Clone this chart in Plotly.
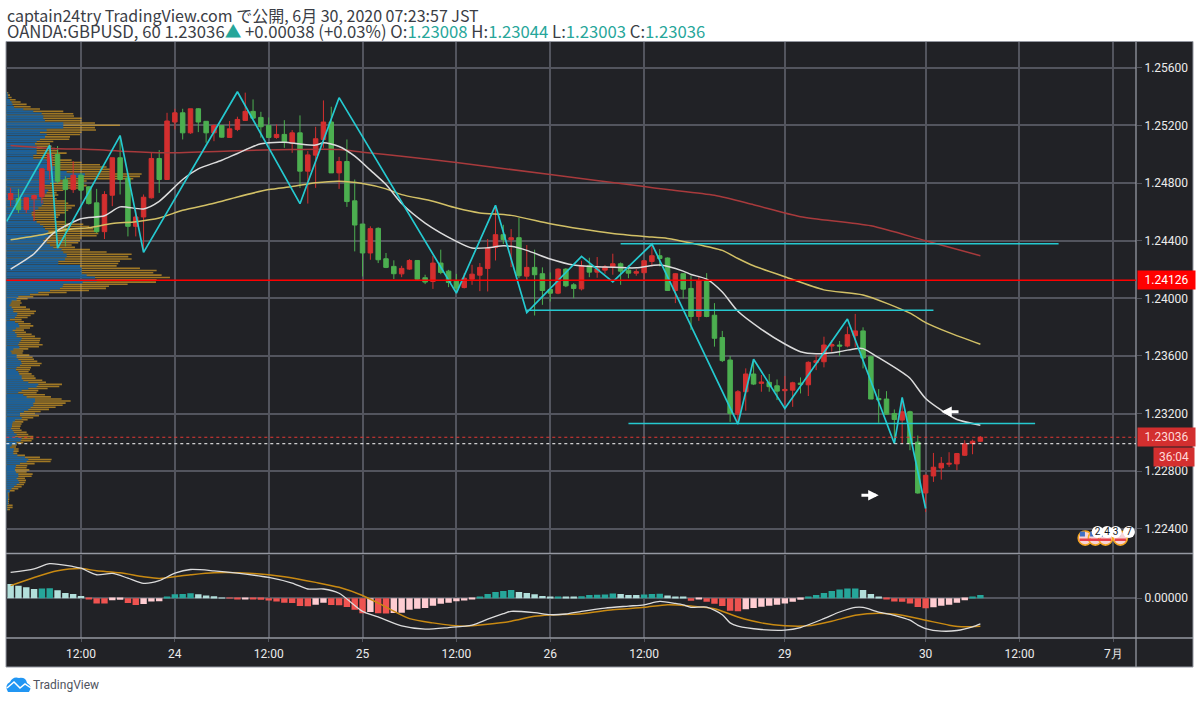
import plotly.graph_objects as go
import numpy as np

# hourly bar index: 0 = 12:00 on the 23rd, weekend gap removed
bar_index = list(range(-9, 116))

opens = [
    1.24686, 1.24693, 1.24616, 1.24691, 1.24705, 1.24890, 1.24999, 1.24823, 1.24755, 1.24855,
    1.24774, 1.24663, 1.24463, 1.24716, 1.24976, 1.24836, 1.24500, 1.24565, 1.24698, 1.24971,
    1.24825, 1.25224, 1.25288, 1.25149, 1.25316, 1.25229, 1.25149, 1.25200, 1.25117, 1.25173,
    1.25235, 1.25298, 1.25256, 1.25200, 1.25117, 1.25138, 1.25080, 1.25149, 1.24883, 1.24994,
    1.25103, 1.25224, 1.24871, 1.24950, 1.24677, 1.24516, 1.24315, 1.24486, 1.24275, 1.24222,
    1.24170, 1.24203, 1.24263, 1.24143, 1.24117, 1.24245, 1.24189, 1.24119, 1.24075, 1.24133,
    1.24161, 1.24208, 1.24354, 1.24442, 1.24407, 1.24421, 1.24154, 1.24215, 1.24171, 1.24062,
    1.24036, 1.24203, 1.24094, 1.24066, 1.24226, 1.24182, 1.24196, 1.24219, 1.24240, 1.24196,
    1.24175, 1.24178, 1.24256, 1.24296, 1.24280, 1.24055, 1.24171, 1.24069, 1.23874, 1.24124,
    1.23883, 1.23728, 1.23572, 1.23196, 1.23352, 1.23475, 1.23410, 1.23417, 1.23393, 1.23359,
    1.23363, 1.23412, 1.23400, 1.23554, 1.23560, 1.23669, 1.23676, 1.23669, 1.23741, 1.23774,
    1.23595, 1.23305, 1.23301, 1.23201, 1.23155, 1.23213, 1.23002, 1.22649, 1.22767, 1.22823,
    1.22849, 1.22851, 1.22911, 1.22992, 1.23008,
]
highs = [
    1.24767, 1.24760, 1.24698, 1.24721, 1.24906, 1.25064, 1.25057, 1.24848, 1.24952, 1.24871,
    1.24778, 1.24760, 1.24744, 1.24976, 1.25131, 1.24848, 1.24616, 1.24721, 1.25015, 1.25029,
    1.25288, 1.25316, 1.25316, 1.25316, 1.25321, 1.25231, 1.25207, 1.25200, 1.25231, 1.25261,
    1.25428, 1.25381, 1.25295, 1.25256, 1.25207, 1.25237, 1.25168, 1.25270, 1.25022, 1.25191,
    1.25374, 1.25330, 1.24982, 1.25103, 1.24825, 1.24516, 1.24500, 1.24493, 1.24315, 1.24264,
    1.24226, 1.24272, 1.24263, 1.24164, 1.24296, 1.24338, 1.24198, 1.24170, 1.24175, 1.24233,
    1.24245, 1.24412, 1.24639, 1.24511, 1.24481, 1.24558, 1.24370, 1.24338, 1.24215, 1.24180,
    1.24208, 1.24210, 1.24106, 1.24261, 1.24282, 1.24287, 1.24231, 1.24310, 1.24249, 1.24231,
    1.24203, 1.24263, 1.24372, 1.24342, 1.24284, 1.24175, 1.24175, 1.24157, 1.24147, 1.24175,
    1.23967, 1.23774, 1.23600, 1.23363, 1.23514, 1.23577, 1.23468, 1.23475, 1.23437, 1.23461,
    1.23421, 1.23451, 1.23563, 1.23607, 1.23734, 1.23711, 1.23704, 1.23804, 1.23892, 1.23799,
    1.23602, 1.23370, 1.23356, 1.23229, 1.23289, 1.23220, 1.23048, 1.22777, 1.22927, 1.22899,
    1.22932, 1.22927, 1.23015, 1.23020, 1.23044,
]
lows = [
    1.24640, 1.24593, 1.24593, 1.24535, 1.24658, 1.24825, 1.24797, 1.24361, 1.24732, 1.24686,
    1.24651, 1.24454, 1.24412, 1.24640, 1.24721, 1.24430, 1.24430, 1.24326, 1.24693, 1.24732,
    1.24825, 1.25173, 1.25103, 1.25142, 1.25154, 1.25080, 1.25091, 1.25115, 1.25117, 1.25161,
    1.25231, 1.25247, 1.25115, 1.25115, 1.25108, 1.25045, 1.25010, 1.24767, 1.24658, 1.24767,
    1.25045, 1.24871, 1.24760, 1.24635, 1.24326, 1.24152, 1.24268, 1.24245, 1.24210, 1.24134,
    1.24147, 1.24198, 1.24129, 1.24099, 1.24066, 1.24168, 1.24078, 1.24036, 1.24069, 1.24094,
    1.24050, 1.24048, 1.24263, 1.24377, 1.24217, 1.24140, 1.24129, 1.23881, 1.23955, 1.23978,
    1.24029, 1.24078, 1.24001, 1.24055, 1.24147, 1.24143, 1.24171, 1.24164, 1.24094, 1.24140,
    1.24157, 1.24133, 1.24222, 1.24222, 1.24052, 1.23967, 1.23999, 1.23781, 1.23844, 1.23869,
    1.23665, 1.23558, 1.23143, 1.23131, 1.23220, 1.23398, 1.23352, 1.23352, 1.23294, 1.23259,
    1.23247, 1.23340, 1.23322, 1.23502, 1.23521, 1.23630, 1.23600, 1.23660, 1.23660, 1.23514,
    1.23301, 1.23136, 1.23192, 1.22992, 1.22992, 1.22946, 1.22644, 1.22517, 1.22726, 1.22742,
    1.22830, 1.22807, 1.22906, 1.22918, 1.23003,
]
closes = [
    1.24728, 1.24616, 1.24698, 1.24714, 1.24899, 1.24999, 1.24813, 1.24755, 1.24855, 1.24751,
    1.24658, 1.24463, 1.24721, 1.24976, 1.24825, 1.24500, 1.24565, 1.24702, 1.24971, 1.24825,
    1.25231, 1.25288, 1.25149, 1.25316, 1.25224, 1.25149, 1.25200, 1.25119, 1.25177, 1.25242,
    1.25298, 1.25251, 1.25191, 1.25117, 1.25138, 1.25084, 1.25149, 1.24883, 1.24996, 1.25108,
    1.25224, 1.24871, 1.24950, 1.24672, 1.24509, 1.24315, 1.24484, 1.24268, 1.24215, 1.24171,
    1.24208, 1.24263, 1.24133, 1.24113, 1.24245, 1.24180, 1.24110, 1.24071, 1.24140, 1.24168,
    1.24215, 1.24349, 1.24442, 1.24407, 1.24421, 1.24157, 1.24215, 1.24164, 1.24055, 1.24036,
    1.24203, 1.24087, 1.24069, 1.24226, 1.24182, 1.24205, 1.24219, 1.24240, 1.24189, 1.24175,
    1.24185, 1.24261, 1.24296, 1.24277, 1.24055, 1.24171, 1.24064, 1.23874, 1.24124, 1.23874,
    1.23723, 1.23568, 1.23201, 1.23352, 1.23475, 1.23405, 1.23419, 1.23387, 1.23356, 1.23368,
    1.23414, 1.23403, 1.23556, 1.23567, 1.23676, 1.23679, 1.23669, 1.23748, 1.23774, 1.23586,
    1.23301, 1.23296, 1.23196, 1.23159, 1.23213, 1.22992, 1.22649, 1.22772, 1.22828, 1.22855,
    1.22855, 1.22923, 1.22990, 1.23008, 1.23036,
]

ma_white_x = [-9, -6, -4, -3, 0, 3, 5, 8, 10, 13, 15, 18, 20, 23, 26, 28, 30, 31, 33, 35, 37, 39, 41, 44, 48, 50, 52,
              54, 55, 57, 60, 63, 67, 71, 74, 77, 78, 80, 82, 84, 87, 90, 92, 94, 97, 99, 100, 102, 105, 106, 108,
              110, 112, 115]
ma_white = [1.24203, 1.24310, 1.24430, 1.24472, 1.24553, 1.24574, 1.24635, 1.24621, 1.24674, 1.24825, 1.24899,
            1.24959, 1.25006, 1.25073, 1.25084, 1.25071, 1.25064, 1.25080, 1.25054, 1.24987, 1.24890, 1.24790,
            1.24658, 1.24523, 1.24396, 1.24349, 1.24351, 1.24365, 1.24361, 1.24333, 1.24273, 1.24231, 1.24217,
            1.24212, 1.24231, 1.24189, 1.24166, 1.24133, 1.24044, 1.23910, 1.23785, 1.23683, 1.23630, 1.23616,
            1.23630, 1.23651, 1.23651, 1.23588, 1.23486, 1.23445, 1.23305, 1.23224, 1.23159, 1.23120]

ma_yellow_x = [-9, -5, -2, 1, 4, 7, 10, 13, 17, 20, 24, 27, 30, 33, 36, 39, 41, 45, 48, 51, 55, 60, 64, 68, 72, 75,
               78, 82, 84, 86, 90, 95, 100, 106, 108, 111, 115]
ma_yellow = [1.24407, 1.24442, 1.24477, 1.24491, 1.24519, 1.24532, 1.24558, 1.24611, 1.24660, 1.24704, 1.24755,
             1.24776, 1.24802, 1.24813, 1.24797, 1.24760, 1.24720, 1.24674, 1.24627, 1.24593, 1.24576, 1.24518,
             1.24481, 1.24451, 1.24430, 1.24416, 1.24384, 1.24333, 1.24277, 1.24226, 1.24150, 1.24059, 1.24024,
             1.23897, 1.23832, 1.23762, 1.23681]

ma_red_x = [-9, -3, 0, 6, 11, 20, 27, 33, 36, 41, 48, 60, 72, 75, 81, 86, 92, 101, 108, 115]
ma_red = [1.25061, 1.25038, 1.25036, 1.25020, 1.25010, 1.25024, 1.25034, 1.25034, 1.25015, 1.24987, 1.24943,
          1.24859, 1.24776, 1.24755, 1.24715, 1.24650, 1.24567, 1.24504, 1.24400, 1.24296]

zigzag_x = [-9.5, -4, -3, 5, 8, 20, 28, 33, 48, 53, 57, 64, 68, 73, 84, 86, 90, 98, 104, 105, 108]
zigzag_y = [1.24534, 1.25063, 1.24349, 1.25130, 1.24319, 1.25434, 1.24657, 1.25393, 1.24036, 1.24646, 1.23901,
            1.24291, 1.24115, 1.24377, 1.23127, 1.23577, 1.23236, 1.23857, 1.22993, 1.23313, 1.22541]

# horizontal drawings: level, first bar, last bar
level_lines_y = [1.24379, 1.23918, 1.23132]
level_lines_x0 = [69, 57, 70]
level_lines_x1 = [125, 109, 122]
pivot_level = 1.24126
last_price = 1.23036
prev_close_level = 1.22991

# visible range volume profile, three stretches of rows (total length, up part)
vp_total_a = [25, 30, 35, 47, 62, 80, 92, 120, 190, 220, 222, 245, 245, 285, 360, 285, 288, 245, 240, 210, 208, 160,
              150, 155, 165, 175, 200, 170, 175, 215, 245, 300, 320, 330, 345, 425, 420, 400, 260, 240, 260, 250,
              190, 170, 175]
vp_up_a = [22, 24, 25, 30, 35, 38, 42, 70, 100, 125, 130, 130, 135, 190, 190, 190, 140, 120, 140, 135, 120, 110,
           105, 110, 110, 110, 110, 100, 100, 140, 150, 155, 165, 180, 200, 255, 240, 200, 170, 150, 130, 135,
           145, 140, 135]
vp_total_b = [165, 170, 195, 205, 225, 215, 205, 195, 180, 175, 165, 195, 250, 268, 280, 290, 295, 290, 245, 240,
              235, 215, 225, 270, 320, 395, 385, 395, 360, 355, 350, 420, 470, 460, 485, 510, 470]
vp_up_b = [120, 125, 130, 130, 125, 115, 105, 95, 95, 100, 100, 110, 120, 130, 135, 145, 145, 150, 135, 130,
           140, 150, 160, 185, 190, 200, 200, 195, 175, 175, 240, 245, 245, 245, 260, 285, 290]
vp_total_c = [468, 383, 327, 318, 267, 200, 147, 100, 83, 62, 65, 60, 78, 90, 108, 103, 92, 83, 65, 72,
              92, 100, 90, 72, 78, 95, 105, 122, 120, 118, 128, 117, 85, 70, 68, 88, 98, 102, 112, 125,
              120, 93, 90, 86, 95, 103, 107, 127, 138, 186, 178, 143, 115, 110, 135, 153, 185, 212, 197, 188,
              167, 147, 122, 105, 117, 100, 83, 70, 65, 62, 60, 65, 80, 85, 100, 100, 95, 70, 50, 48,
              56, 56, 52, 75, 120, 155, 152, 104, 82, 80, 88, 80, 98, 95, 75, 78, 76, 72, 65, 55,
              44, 28, 28, 28, 28, 27, 27, 38, 38, 30]
vp_up_c = [248, 190, 188, 180, 150, 115, 90, 55, 50, 35, 32, 28, 35, 40, 40, 52, 50, 45, 30, 45,
           55, 58, 48, 38, 45, 50, 50, 65, 62, 58, 55, 58, 40, 32, 35, 50, 50, 55, 63, 65,
           60, 50, 48, 55, 58, 65, 65, 70, 85, 115, 110, 85, 65, 55, 70, 80, 105, 105, 100, 100,
           92, 85, 72, 60, 60, 65, 45, 38, 36, 36, 33, 38, 42, 50, 45, 65, 62, 50, 35, 30,
           42, 40, 40, 52, 75, 85, 80, 60, 48, 45, 45, 48, 55, 55, 50, 55, 58, 50, 42, 35,
           30, 23, 24, 25, 24, 24, 25, 22, 22, 22]

macd_hist = [
    0.00143, 0.00127, 0.00110, 0.00093, 0.00098, 0.00100, 0.00080, 0.00053, 0.00043, 0.00023,
    -0.00013, -0.00053, -0.00055, -0.00020, -0.00017, -0.00050, -0.00070, -0.00060, -0.00033, -0.00030,
    0.00007, 0.00040, 0.00042, 0.00050, 0.00040, 0.00027, 0.00020, 0.00003,
    -0.00003, -0.00010, -0.00007, -0.00010, -0.00017, -0.00023, -0.00033, -0.00047, -0.00050, -0.00080,
    -0.00082, -0.00067, -0.00047, -0.00070, -0.00072, -0.00090, -0.00117, -0.00153, -0.00140, -0.00153,
    -0.00155, -0.00150, -0.00147, -0.00117, -0.00107, -0.00100, -0.00077, -0.00057, -0.00047, -0.00030,
    -0.00023, -0.00007,
    0.00010, 0.00043, 0.00063, 0.00073, 0.00083, 0.00063, 0.00053, 0.00040, 0.00023, 0.00010,
    0.00013, 0.00010, 0.00008, 0.00020, 0.00033, 0.00035, 0.00037, 0.00047, 0.00043, 0.00033,
    0.00032, 0.00037, 0.00043, 0.00045, 0.00027, 0.00017, 0.00007,
    -0.00027, -0.00013, -0.00037, -0.00057, -0.00080, -0.00127, -0.00133, -0.00113, -0.00100, -0.00087,
    -0.00077, -0.00067, -0.00053, -0.00037, -0.00017,
    0.00010, 0.00033, 0.00053, 0.00073, 0.00087, 0.00097, 0.00098, 0.00083, 0.00043, 0.00013,
    -0.00013, -0.00033, -0.00035, -0.00053, -0.00090, -0.00103, -0.00093, -0.00077, -0.00067, -0.00047,
    -0.00020, 0.00010, 0.00033,
]
macd_line_x = [-9, -6, -4, -1, 0, 2, 4, 6, 8, 10, 12, 14, 17, 20, 24, 27, 29, 31, 33, 36, 38, 41, 44, 47, 50, 52, 54,
               55, 58, 60, 62, 64, 67, 70, 72, 74, 76, 77, 78, 80, 82, 83, 84, 87, 90, 92, 95, 97, 99, 100, 102,
               104, 106, 107, 108, 110, 112, 114, 115]
macd_line = [0.00260, 0.00297, 0.00350, 0.00320, 0.00303, 0.00237, 0.00250, 0.00203, 0.00150, 0.00177, 0.00253,
             0.00290, 0.00277, 0.00253, 0.00210, 0.00153, 0.00093, 0.00093, 0.00050, -0.00133, -0.00190, -0.00280,
             -0.00313, -0.00297, -0.00273, -0.00213, -0.00157, -0.00133, -0.00147, -0.00167, -0.00160, -0.00133,
             -0.00100, -0.00080, -0.00067, -0.00033, -0.00053, -0.00067, -0.00093, -0.00090, -0.00167, -0.00250,
             -0.00283, -0.00317, -0.00323, -0.00297, -0.00207, -0.00140, -0.00093, -0.00093, -0.00140, -0.00173,
             -0.00223, -0.00273, -0.00307, -0.00333, -0.00327, -0.00290, -0.00260]
signal_line_x = [-9, -6, -3, 0, 2, 5, 8, 10, 14, 17, 22, 26, 30, 33, 36, 39, 42, 45, 49, 52, 55, 58, 60, 64, 68, 72,
                 75, 78, 81, 84, 87, 90, 93, 96, 99, 102, 105, 108, 111, 113, 115]
signal_line = [0.00127, 0.00210, 0.00277, 0.00300, 0.00277, 0.00257, 0.00217, 0.00200, 0.00237, 0.00257, 0.00250,
               0.00217, 0.00160, 0.00110, 0.00027, -0.00090, -0.00207, -0.00250, -0.00283, -0.00263, -0.00233,
               -0.00183, -0.00170, -0.00157, -0.00117, -0.00093, -0.00067, -0.00080, -0.00107, -0.00190, -0.00250,
               -0.00280, -0.00280, -0.00233, -0.00173, -0.00153, -0.00173, -0.00223, -0.00273, -0.00290, -0.00283]

time_ticks = [0, 12, 24, 36, 48, 60, 72, 90, 108, 120, 132]
time_labels = ["12:00", "24", "12:00", "25", "12:00", "26", "12:00", "29", "30", "12:00", "7月"]
price_ticks = [1.224, 1.228, 1.232, 1.236, 1.24, 1.244, 1.248, 1.252, 1.256]
price_labels = ["1.22400", "1.22800", "1.23200", "1.23600", "1.24000", "1.24400", "1.24800", "1.25200", "1.25600"]

event_x = [128.4, 129.7, 131, 132.9]
event_badge_x = [130, 131.2, 132.3, 134]
event_badge_text = ["2", "4", "3", "7"]
event_price = 1.22336
event_flag_price = 1.22365
event_badge_price = 1.22378

PANEL = "#212226"
GRID = "#53555e"
EDGE = "#9598a1"
LABEL = "#ececec"
TEAL = "#26a69a"
CYAN = "#25c9d0"
FONT = "Roboto"


def X(px):
    return px / 1200


def Y(px):
    return 1 - px / 702


def vp_bar(rows, lengths, color):
    return go.Bar(x=lengths, y=rows, orientation="h", width=0.00011, marker=dict(color=color, line_width=0),
                  xaxis="x", yaxis="y", hoverinfo="skip", showlegend=False)


def macd_colors(values):
    colors = []
    prev = None
    for v in values:
        rising = prev is not None and v > prev
        if v >= 0:
            colors.append(TEAL if rising else "#b2dfdb")
        else:
            colors.append("#ffcdd2" if rising else "#ef5350")
        prev = v
    return colors


def line(x, y, color, width=1.5, yaxis="y", smooth=False):
    style = dict(color=color, width=width)
    if smooth:
        style.update(shape="spline", smoothing=0.7)
    return go.Scatter(x=x, y=y, mode="lines", line=style, xaxis="x2", yaxis=yaxis,
                      hoverinfo="skip", showlegend=False)


fig = go.Figure()

vp_rows_a = np.linspace(1.25427, 1.24718, len(vp_total_a))
vp_rows_b = np.linspace(1.24708, 1.24129, len(vp_total_b))
vp_rows_c = np.linspace(1.24113, 1.22534, len(vp_total_c))
vp_rows = list(vp_rows_a) + list(vp_rows_b) + list(vp_rows_c)
fig.add_trace(vp_bar(vp_rows, vp_total_a + vp_total_b + vp_total_c, "rgba(226,166,36,0.66)"))
fig.add_trace(vp_bar(vp_rows, vp_up_a + vp_up_b + vp_up_c, "#1c6099"))

fig.add_trace(line(ma_red_x, ma_red, "#a83a3c", smooth=True))
fig.add_trace(line(ma_yellow_x, ma_yellow, "#d2c066", smooth=True))
fig.add_trace(line(ma_white_x, ma_white, "#dcdcdc", smooth=True))

fig.add_trace(go.Candlestick(
    x=bar_index, open=opens, high=highs, low=lows, close=closes, xaxis="x2", yaxis="y",
    increasing=dict(line=dict(color="#d32f2f", width=1), fillcolor="#d32f2f"),
    decreasing=dict(line=dict(color="#4caf50", width=1), fillcolor="#4caf50"),
    whiskerwidth=0, hoverinfo="skip", showlegend=False,
))

fig.add_trace(line(zigzag_x, zigzag_y, CYAN, 1.7))
for level, first, last in zip(level_lines_y, level_lines_x0, level_lines_x1):
    fig.add_trace(line([first, last], [level, level], CYAN, 1.5))

# economic calendar badges
fig.add_trace(go.Scatter(x=event_x, y=[event_price] * len(event_x), mode="markers", xaxis="x2", yaxis="y",
                         marker=dict(size=14, color="#f6d3d6", line=dict(color="#f5a623", width=1.6)),
                         hoverinfo="skip", showlegend=False))
fig.add_trace(go.Scatter(x=event_x, y=[event_price - 0.00012] * len(event_x), mode="markers", xaxis="x2", yaxis="y",
                         marker=dict(size=8, symbol="line-ew", line=dict(color="#e5404a", width=2.5)),
                         hoverinfo="skip", showlegend=False))
fig.add_trace(go.Scatter(x=[v - 0.35 for v in event_x], y=[event_flag_price] * len(event_x), mode="markers",
                         xaxis="x2", yaxis="y", marker=dict(size=5, symbol="square", color="#3f6fc4"),
                         hoverinfo="skip", showlegend=False))
fig.add_trace(go.Scatter(x=event_badge_x, y=[event_badge_price] * len(event_badge_x), mode="markers+text",
                         xaxis="x2", yaxis="y", text=event_badge_text, textposition="middle center",
                         textfont=dict(family=FONT, size=10, color="#131722"),
                         marker=dict(size=12, color="white"), hoverinfo="skip", showlegend=False))

fig.add_trace(go.Bar(x=bar_index, y=macd_hist, width=0.82, marker=dict(color=macd_colors(macd_hist), line_width=0),
                     xaxis="x2", yaxis="y3", hoverinfo="skip", showlegend=False))
fig.add_trace(line(signal_line_x, signal_line, "#c98a12", 1.5, "y3", smooth=True))
fig.add_trace(line(macd_line_x, macd_line, "#dcdcdc", 1.3, "y3", smooth=True))

shapes = [
    dict(type="rect", xref="paper", yref="paper", x0=X(6), x1=X(1193), y0=Y(667), y1=Y(41.5),
         fillcolor=PANEL, line=dict(color=EDGE, width=1), layer="below"),
    dict(type="line", xref="paper", yref="paper", x0=X(6), x1=X(1193), y0=Y(553.5), y1=Y(553.5),
         line=dict(color=EDGE, width=1.3), layer="above"),
    dict(type="line", xref="paper", yref="paper", x0=X(6), x1=X(1193), y0=Y(638), y1=Y(638),
         line=dict(color=EDGE, width=1.3), layer="above"),
    dict(type="line", xref="paper", yref="paper", x0=X(1136), x1=X(1136), y0=Y(667), y1=Y(41.5),
         line=dict(color=EDGE, width=1.3), layer="above"),
    dict(type="line", xref="paper", yref="y", x0=X(6.3), x1=X(1136), y0=pivot_level, y1=pivot_level,
         line=dict(color="#ff0000", width=1.5), layer="above"),
    dict(type="line", xref="paper", yref="y", x0=X(6.3), x1=X(1136), y0=last_price, y1=last_price,
         line=dict(color="#e53935", width=1.2, dash="dot"), layer="above"),
    dict(type="line", xref="paper", yref="y", x0=X(6.3), x1=X(1136), y0=prev_close_level, y1=prev_close_level,
         line=dict(color="white", width=1, dash="dot"), layer="above"),
    # logo cloud
    dict(type="path", xref="paper", yref="paper", fillcolor="#2196f3", line_width=0,
         path="M {} {} Q {} {} {} {} Q {} {} {} {} Q {} {} {} {} Q {} {} {} {} L {} {} Z".format(
             X(8), Y(692), X(4), Y(685), X(10), Y(682), X(13), Y(676), X(19), Y(678), X(26), Y(677), X(27), Y(683),
             X(33), Y(686), X(29), Y(692), X(8), Y(692))),
    dict(type="path", xref="paper", yref="paper", line=dict(color="white", width=1.5),
         path="M {} {} L {} {} L {} {} L {} {} L {} {}".format(
             X(7), Y(688), X(14), Y(682), X(20), Y(688), X(25), Y(684), X(31), Y(688))),
]

title_dark = "#3a3d45"
title_second = (
    "OANDA:GBPUSD, 60 1.23036<span style='color:{t}'>▲</span> +0.00038 (+0.03%) "
    "O:<span style='color:{t}'>1.23008</span> H:<span style='color:{t}'>1.23044</span> "
    "L:<span style='color:{t}'>1.23003</span> C:<span style='color:{t}'>1.23036</span>"
).format(t=TEAL)

annotations = [
    dict(xref="paper", yref="paper", x=X(5), y=Y(15), xanchor="left", yanchor="middle", showarrow=False,
         text="captain24try TradingView.com で公開, 6月 30, 2020 07:23:57 JST",
         font=dict(family="Noto Sans CJK JP", size=16, color=title_dark)),
    dict(xref="paper", yref="paper", x=X(5), y=Y(31), xanchor="left", yanchor="middle", showarrow=False,
         text=title_second, font=dict(family="Noto Sans CJK JP", size=16.7, color=title_dark)),
    dict(xref="paper", yref="y", x=X(1136.5), y=pivot_level, xanchor="left", yanchor="middle", showarrow=False,
         text="1.24126", width=55, height=16, bgcolor="#ff0000", font=dict(family=FONT, size=12, color="white")),
    dict(xref="paper", yref="y", x=X(1136.5), y=last_price, xanchor="left", yanchor="middle", showarrow=False,
         text="1.23036", width=55, height=16, bgcolor="#d32f2f", font=dict(family=FONT, size=12, color="#ffd9d9")),
    dict(xref="paper", yref="paper", x=X(1153), y=Y(457), xanchor="left", yanchor="middle", showarrow=False,
         text="36:04", width=38, height=16, bgcolor="#d32f2f", font=dict(family=FONT, size=12, color="#ffd9d9")),
    dict(xref="paper", yref="paper", x=X(31), y=Y(684.5), xanchor="left", yanchor="middle", showarrow=False,
         text="TradingView", font=dict(family=FONT, size=12, color="#50535e")),
    # hand drawn arrows
    dict(xref="x2", yref="y", axref="x2", ayref="y", x=102, y=1.22633, ax=99.6, ay=1.22633, text="", showarrow=True,
         arrowhead=2, arrowsize=0.7, arrowwidth=3, arrowcolor="white"),
    dict(xref="x2", yref="y", axref="x2", ayref="y", x=110, y=1.23213, ax=112.4, ay=1.23213, text="", showarrow=True,
         arrowhead=2, arrowsize=0.7, arrowwidth=3, arrowcolor="white"),
]

fig.update_layout(
    width=1200,
    height=702,
    margin=dict(l=0, r=0, t=0, b=0),
    paper_bgcolor="white",
    plot_bgcolor="rgba(0,0,0,0)",
    barmode="overlay",
    boxgap=0.18,
    showlegend=False,
    shapes=shapes,
    annotations=annotations,
    xaxis=dict(domain=[X(6.3), X(1136)], range=[19, 3408], visible=False, anchor="y", fixedrange=True),
    xaxis2=dict(overlaying="x", anchor="y3", side="bottom", range=[-9.553, 134.9], tickmode="array",
                tickvals=time_ticks, ticktext=time_labels, tickfont=dict(family=FONT, size=12, color=LABEL),
                showgrid=True, gridcolor=GRID, gridwidth=1.5, ticks="outside", ticklen=3, tickcolor=GRID,
                ticklabelstandoff=2, rangeslider=dict(visible=False), zeroline=False, showline=False),
    yaxis=dict(domain=[Y(553.5), Y(41.5)], range=[1.22229, 1.25783], anchor="x", side="right", tickmode="array",
               tickvals=price_ticks, ticktext=price_labels, tickfont=dict(family=FONT, size=12, color=LABEL),
               showgrid=True, gridcolor=GRID, gridwidth=1.5, ticks="outside", ticklen=5, tickcolor=GRID,
               zeroline=False, showline=False),
    yaxis3=dict(domain=[Y(638), Y(554.5)], range=[-0.00403, 0.00442], anchor="x2", side="right", tickmode="array",
                tickvals=[0], ticktext=["0.00000"], tickfont=dict(family=FONT, size=12, color=LABEL),
                showgrid=True, gridcolor=GRID, gridwidth=1.5, ticks="outside", ticklen=5, tickcolor=GRID,
                zeroline=False, showline=False),
    font=dict(family=FONT),
)

fig.write_html("out.html", config=dict(displayModeBar=False), post_script="document.body.style.margin='0';")
